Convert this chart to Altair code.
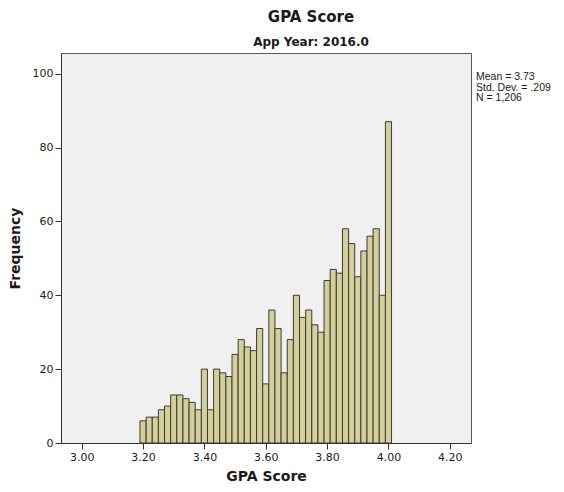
import altair as alt
import pandas as pd

# Bin centres (GPA) and frequencies
bin_centers = [3.20, 3.22, 3.24, 3.26, 3.28, 3.30, 3.32, 3.34, 3.36, 3.38,
               3.40, 3.42, 3.44, 3.46, 3.48, 3.50, 3.52, 3.54, 3.56, 3.58,
               3.60, 3.62, 3.64, 3.66, 3.68, 3.70, 3.72, 3.74, 3.76, 3.78,
               3.80, 3.82, 3.84, 3.86, 3.88, 3.90, 3.92, 3.94, 3.96, 3.98,
               4.00]
counts = [6, 7, 7, 9, 10, 13, 13, 12, 11, 9,
          20, 9, 20, 19, 18, 24, 28, 26, 25, 31,
          16, 36, 31, 19, 28, 40, 34, 36, 32, 30,
          44, 47, 46, 58, 54, 45, 52, 56, 58, 40,
          87]
bin_width = 0.02
x_ticks = [3.00, 3.20, 3.40, 3.60, 3.80, 4.00, 4.20]
y_ticks = [0, 20, 40, 60, 80, 100]
stats_lines = ["Mean = 3.73", "Std. Dev. = .209", "N = 1,206"]

df = pd.DataFrame({
    "start": [c - bin_width / 2 for c in bin_centers],
    "end": [c + bin_width / 2 for c in bin_centers],
    "count": counts,
})

FONT = "DejaVu Sans"
TXT = "#1a1a1a"

x_scale = alt.Scale(domain=[2.9325, 4.269], nice=False, zero=False)
y_scale = alt.Scale(domain=[0, 105.6], nice=False)

bars = alt.Chart(df).mark_rect(
    fill="#d4cf98", stroke="#3a3a3a", strokeWidth=1
).encode(
    x=alt.X("start:Q", scale=x_scale,
            axis=alt.Axis(values=x_ticks, format=".2f", title="GPA Score",
                          grid=False, tickSize=6, labelPadding=2,
                          titlePadding=7)),
    x2="end:Q",
    y=alt.Y("count:Q", scale=y_scale,
            axis=alt.Axis(values=y_ticks, title="Frequency", grid=False,
                          tickSize=6, labelPadding=2, titlePadding=10)),
    y2=alt.datum(0),
)

stats = alt.Chart(pd.DataFrame({"t": ["\n".join(stats_lines)]})).mark_text(
    align="left", baseline="top", font="Liberation Sans", fontSize=10.5,
    lineHeight=10.5, color=TXT, lineBreak="\n"
).encode(
    text="t:N",
    x=alt.value(415),
    y=alt.value(19),
)

chart = alt.layer(bars, stats).properties(
    width=410,
    height=390,
    padding={"left": 53, "top": 45, "right": 85, "bottom": 40},
    autosize=alt.AutoSizeParams(type="none"),
    background="white",
    title=alt.TitleParams(
        text="GPA Score", subtitle="App Year: 2016.0",
        anchor="middle", dx=45, offset=5,
        font=FONT, fontSize=15, fontWeight="bold", color=TXT,
        subtitleFont=FONT, subtitleFontSize=12, subtitleFontWeight="bold",
        subtitleColor=TXT, subtitlePadding=12,
    ),
).configure_view(
    fill="#f0f0f0", stroke="#5a5a5a", strokeWidth=1
).configure_axis(
    labelFont=FONT, labelFontSize=11, labelColor=TXT,
    titleFont=FONT, titleFontSize=14, titleFontWeight="bold", titleColor=TXT,
    domainColor="#333333", tickColor="#333333", domainWidth=1,
)

chart.save("out.html", embed_options={"renderer": "svg", "actions": False})
